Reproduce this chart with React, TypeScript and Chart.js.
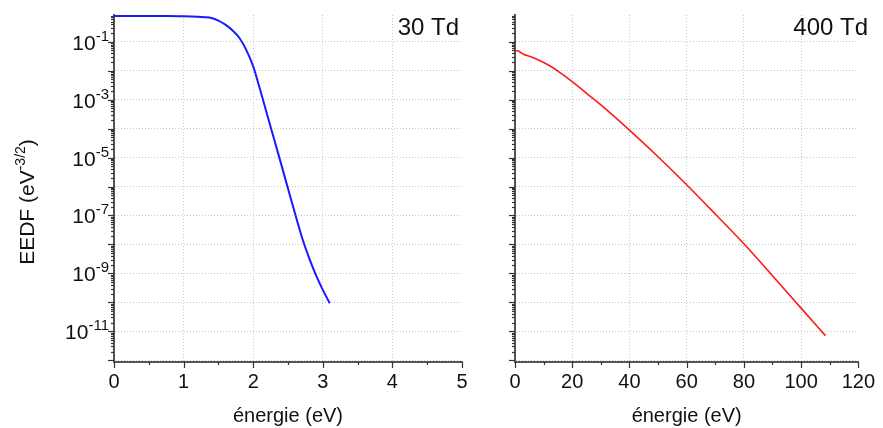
import React, { useEffect, useRef } from 'react';
import { Chart, registerables } from 'chart.js';

Chart.register(...registerables);

const FONT = '"Liberation Sans", Arial, Helvetica, sans-serif';

// 30 Td panel
const energy30 = [0, 0.25, 0.5, 0.75, 1.0, 1.2, 1.3, 1.4, 1.5, 1.6, 1.7, 1.8, 1.9, 2.0, 2.1, 2.2, 2.3, 2.4, 2.5, 2.6, 2.7, 2.8, 2.9, 3.0, 3.1];
const eedf30 = [0.776, 0.776, 0.775, 0.772, 0.759, 0.733, 0.708, 0.661, 0.537, 0.389, 0.251, 0.138, 0.0525, 0.0141, 2.19e-3, 3.09e-4, 4.37e-5, 6.17e-6, 8.5e-7, 1.2e-7, 1.78e-8, 3.55e-9, 8.9e-10, 2.7e-10, 9.3e-11];

// 400 Td panel
const energy400 = [0, 1, 2, 3, 5, 8, 12, 16, 20, 25, 30, 40, 50, 60, 70, 80, 90, 100, 108.5];
const eedf400 = [0.049, 0.049, 0.0427, 0.0372, 0.0316, 0.024, 0.0151, 8.3e-3, 4.17e-3, 1.66e-3, 6.6e-4, 8.9e-5, 1.07e-5, 1.15e-6, 1.12e-7, 1.05e-8, 8.3e-10, 6.3e-11, 7.1e-12];

const xMax30 = 5;
const xStep30 = 1;
const xMax400 = 120;
const xStep400 = 20;
const yMin = 8.7e-13;
const yMax = 0.84;
const yLabelExponents = [-1, -3, -5, -7, -9, -11];
const panelLabels = ['30 Td', '400 Td'];
const xTitle = 'énergie (eV)';
const yTitleParts = ['EEDF (eV', '-3/2', ')'];

const AXIS_COLOR = '#555555';
const GRID_COLOR = '#c8c8c8';
const TEXT_COLOR = '#111111';

const isDecade = (v: number) => {
  const l = Math.log10(v);
  return Math.abs(l - Math.round(l)) < 1e-6;
};

const decorPlugin = {
  id: 'decor',
  afterDraw(chart: any, _args: any, opts: any) {
    const ctx: CanvasRenderingContext2D = chart.ctx;
    const xs = chart.scales.x;
    const ys = chart.scales.y;
    const area = chart.chartArea;
    ctx.save();
    ctx.strokeStyle = '#333';
    ctx.lineWidth = 1.2;
    // y tick marks (major decades + minor log ticks)
    for (const t of ys.ticks) {
      const v = t.value;
      const l = Math.log10(v);
      const mant = v / Math.pow(10, Math.floor(l + 1e-9));
      if (Math.abs(mant - Math.round(mant)) > 1e-6) continue;
      const py = Math.round(ys.getPixelForValue(v)) + 0.5;
      const len = isDecade(v) ? 6 : 3;
      ctx.beginPath();
      ctx.moveTo(area.left, py);
      ctx.lineTo(area.left - len, py);
      ctx.stroke();
    }
    // x tick marks (major + minor midpoints)
    const xt = xs.ticks.map((t: any) => t.value);
    for (let i = 0; i < xt.length; i++) {
      const px = Math.round(xs.getPixelForValue(xt[i])) + 0.5;
      ctx.beginPath();
      ctx.moveTo(px, area.bottom);
      ctx.lineTo(px, area.bottom + 6);
      ctx.stroke();
      if (i < xt.length - 1) {
        const pm = Math.round(xs.getPixelForValue((xt[i] + xt[i + 1]) / 2)) + 0.5;
        ctx.beginPath();
        ctx.moveTo(pm, area.bottom);
        ctx.lineTo(pm, area.bottom + 3);
        ctx.stroke();
      }
    }
    ctx.restore();

    ctx.save();
    ctx.fillStyle = TEXT_COLOR;
    if (opts.showYLabels) {
      for (const e of yLabelExponents) {
        const py = ys.getPixelForValue(Math.pow(10, e));
        const sup = String(e);
        ctx.font = `15px ${FONT}`;
        const supW = ctx.measureText(sup).width;
        ctx.textAlign = 'right';
        ctx.textBaseline = 'alphabetic';
        const right = area.left - 5;
        ctx.fillText(sup, right, py - 1);
        ctx.font = `21px ${FONT}`;
        ctx.fillText('10', right - supW, py + 8);
      }
      // y title
      ctx.save();
      ctx.translate(34, 202);
      ctx.rotate(-Math.PI / 2);
      ctx.textBaseline = 'alphabetic';
      ctx.textAlign = 'left';
      ctx.font = `21px ${FONT}`;
      const w1 = ctx.measureText(yTitleParts[0]).width;
      const w3 = ctx.measureText(yTitleParts[2]).width;
      ctx.font = `14px ${FONT}`;
      const w2 = ctx.measureText(yTitleParts[1]).width;
      const total = w1 + w2 + w3;
      const x0 = -total / 2;
      ctx.font = `21px ${FONT}`;
      ctx.fillText(yTitleParts[0], x0, 0);
      ctx.font = `14px ${FONT}`;
      ctx.fillText(yTitleParts[1], x0 + w1, -9);
      ctx.font = `21px ${FONT}`;
      ctx.fillText(yTitleParts[2], x0 + w1 + w2, 0);
      ctx.restore();
    }
    // panel label
    ctx.font = `24px ${FONT}`;
    ctx.textAlign = 'right';
    ctx.textBaseline = 'alphabetic';
    ctx.fillText(opts.label, opts.labelRight, 35);
    ctx.restore();
  },
};

function makeConfig(
  xs: number[],
  ys: number[],
  color: string,
  lw: number,
  xMax: number,
  xStep: number,
  yAxisWidth: number,
  padRight: number,
  showYLabels: boolean,
  label: string,
  labelRight: number
): any {
  return {
    type: 'line',
    data: {
      datasets: [
        {
          data: xs.map((x, i) => ({ x, y: ys[i] })),
          borderColor: color,
          borderWidth: lw,
          pointRadius: 0,
          fill: false,
          cubicInterpolationMode: 'monotone',
        },
      ],
    },
    options: {
      animation: false,
      responsive: false,
      maintainAspectRatio: false,
      events: [],
      layout: { padding: { left: 0, top: 15, right: padRight, bottom: 0 } },
      plugins: {
        legend: { display: false },
        tooltip: { enabled: false },
        decor: { showYLabels, label, labelRight },
      },
      scales: {
        x: {
          type: 'linear',
          min: 0,
          max: xMax,
          afterFit: (s: any) => {
            s.height = 66;
          },
          ticks: {
            stepSize: xStep,
            autoSkip: false,
            maxRotation: 0,
            padding: 8,
            color: TEXT_COLOR,
            font: { size: 20, family: FONT },
          },
          grid: {
            drawTicks: false,
            lineWidth: 1,
            color: (c: any) => {
              const v = c.tick ? c.tick.value : 0;
              return v === 0 || v === xMax ? 'rgba(0,0,0,0)' : GRID_COLOR;
            },
          },
          border: { display: true, color: AXIS_COLOR, width: 2, dash: [1, 2] },
          title: {
            display: true,
            text: xTitle,
            color: TEXT_COLOR,
            font: { size: 20, family: FONT },
            padding: { top: 0, bottom: 0 },
          },
        },
        y: {
          type: 'logarithmic',
          min: yMin,
          max: yMax,
          afterFit: (s: any) => {
            s.width = yAxisWidth;
          },
          ticks: { display: false, autoSkip: false },
          grid: {
            drawTicks: false,
            lineWidth: 1,
            color: (c: any) => (c.tick && isDecade(c.tick.value) ? GRID_COLOR : 'rgba(0,0,0,0)'),
          },
          border: { display: true, color: AXIS_COLOR, width: 2, dash: [1, 2] },
        },
      },
    },
    plugins: [decorPlugin],
  };
}

function Panel(props: { config: any; left: number; width: number }) {
  const ref = useRef<HTMLCanvasElement | null>(null);
  useEffect(() => {
    if (!ref.current) return;
    const chart = new Chart(ref.current, props.config);
    return () => chart.destroy();
  }, []);
  return (
    <canvas
      ref={ref}
      width={props.width}
      height={428}
      style={{ position: 'absolute', left: props.left, top: 0, width: props.width, height: 428 }}
    />
  );
}

export default function App() {
  const left = makeConfig(energy30, eedf30, '#1a1aff', 2, xMax30, xStep30, 114, 28, true, panelLabels[0], 459);
  const right = makeConfig(energy400, eedf400, '#ff1a1a', 1.6, xMax400, xStep400, 25, 20, false, panelLabels[1], 378);
  return (
    <div style={{ position: 'fixed', left: 0, top: 0, width: 883, height: 428, background: '#fff' }}>
      <Panel config={left} left={0} width={490} />
      <Panel config={right} left={490} width={393} />
    </div>
  );
}
